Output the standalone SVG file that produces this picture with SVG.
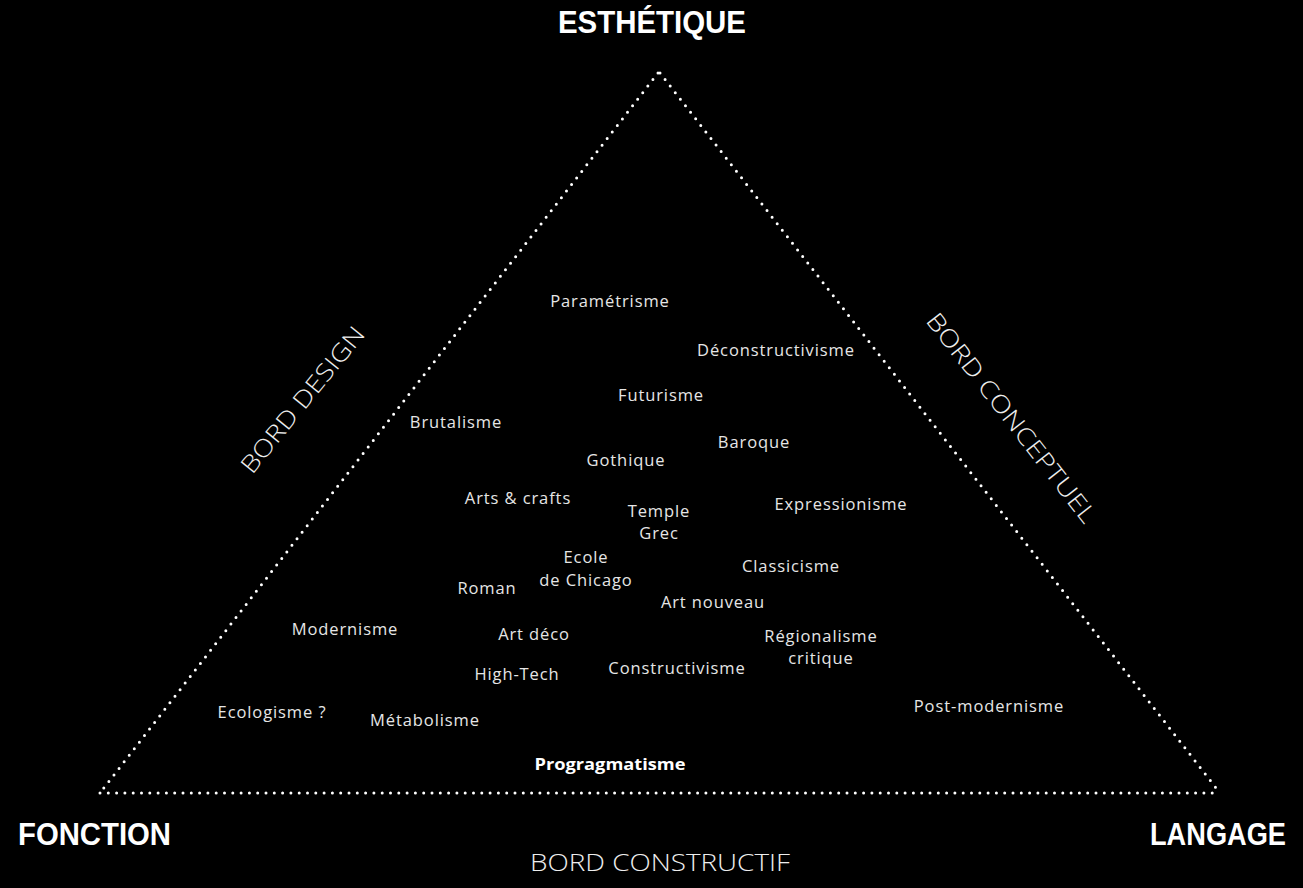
<svg xmlns="http://www.w3.org/2000/svg" width="1303" height="888" viewBox="0 0 1303 888">
<style>
.edge{fill:none;stroke:#fff;stroke-width:3;stroke-linecap:round;stroke-dasharray:0 8.3}
.pole{font-family:"Liberation Sans",Arial,sans-serif;font-weight:bold;font-size:31px;fill:#fff}
.bord{font-family:"Open Sans","Noto Sans",sans-serif;font-weight:300;font-size:24px;fill:#eee;text-anchor:middle}
.lab{font-family:"Open Sans","Noto Sans",sans-serif;font-size:16.5px;fill:#e6e6e6;letter-spacing:0.9px;text-anchor:middle}
.labb{font-family:"Open Sans","Noto Sans",sans-serif;font-size:16px;font-weight:bold;fill:#fff;text-anchor:middle}
</style>
<rect width="1303" height="888" fill="#000"/>
<g id="connectors">
<path class="edge" d="M658,73 L100,793"/>
<path class="edge" d="M660,73 L1220,793"/>
<path class="edge" d="M100,793 L1220,793"/>
</g>
<g id="poles">
<text id="esthetique" class="pole" x="558" y="33" textLength="188" lengthAdjust="spacingAndGlyphs">ESTHÉTIQUE</text>
<text id="fonction" class="pole" x="18" y="845" textLength="153" lengthAdjust="spacingAndGlyphs">FONCTION</text>
<text id="langage" class="pole" x="1150" y="845" textLength="136" lengthAdjust="spacingAndGlyphs">LANGAGE</text>
</g>
<g id="bords">
<text id="bord-constructif" class="bord" x="660" y="871" textLength="260" lengthAdjust="spacingAndGlyphs">BORD CONSTRUCTIF</text>
<text id="bord-design" class="bord" transform="translate(303,400) rotate(-51)" x="0" y="8" textLength="181" lengthAdjust="spacingAndGlyphs">BORD DESIGN</text>
<text id="bord-conceptuel" class="bord" transform="translate(1011,418) rotate(52)" x="0" y="8" textLength="259" lengthAdjust="spacingAndGlyphs">BORD CONCEPTUEL</text>
</g>
<g id="labels">
<text id="n1" class="lab" x="610" y="307">Paramétrisme</text>
<text id="n2" class="lab" x="776" y="356">Déconstructivisme</text>
<text id="n3" class="lab" x="661" y="401">Futurisme</text>
<text id="n4" class="lab" x="456" y="428">Brutalisme</text>
<text id="n5" class="lab" x="754" y="448">Baroque</text>
<text id="n6" class="lab" x="626" y="466">Gothique</text>
<text id="n7" class="lab" x="518" y="504">Arts &amp; crafts</text>
<text id="n8" class="lab" x="659" y="517">Temple<tspan x="659" dy="22">Grec</tspan></text>
<text id="n9" class="lab" x="841" y="510">Expressionisme</text>
<text id="n10" class="lab" x="586" y="563">Ecole<tspan x="586" dy="23">de Chicago</tspan></text>
<text id="n11" class="lab" x="791" y="572">Classicisme</text>
<text id="n12" class="lab" x="487" y="594">Roman</text>
<text id="n13" class="lab" x="713" y="608">Art nouveau</text>
<text id="n14" class="lab" x="345" y="635">Modernisme</text>
<text id="n15" class="lab" x="534" y="640">Art déco</text>
<text id="n16" class="lab" x="821" y="642">Régionalisme<tspan x="821" dy="22">critique</tspan></text>
<text id="n17" class="lab" x="517" y="680">High-Tech</text>
<text id="n18" class="lab" x="677" y="674">Constructivisme</text>
<text id="n19" class="lab" x="989" y="712">Post-modernisme</text>
<text id="n20" class="lab" x="272" y="718">Ecologisme ?</text>
<text id="n21" class="lab" x="425" y="726">Métabolisme</text>
<text id="n22" class="labb" x="610" y="770" textLength="151" lengthAdjust="spacingAndGlyphs">Progragmatisme</text>
</g>
</svg>
